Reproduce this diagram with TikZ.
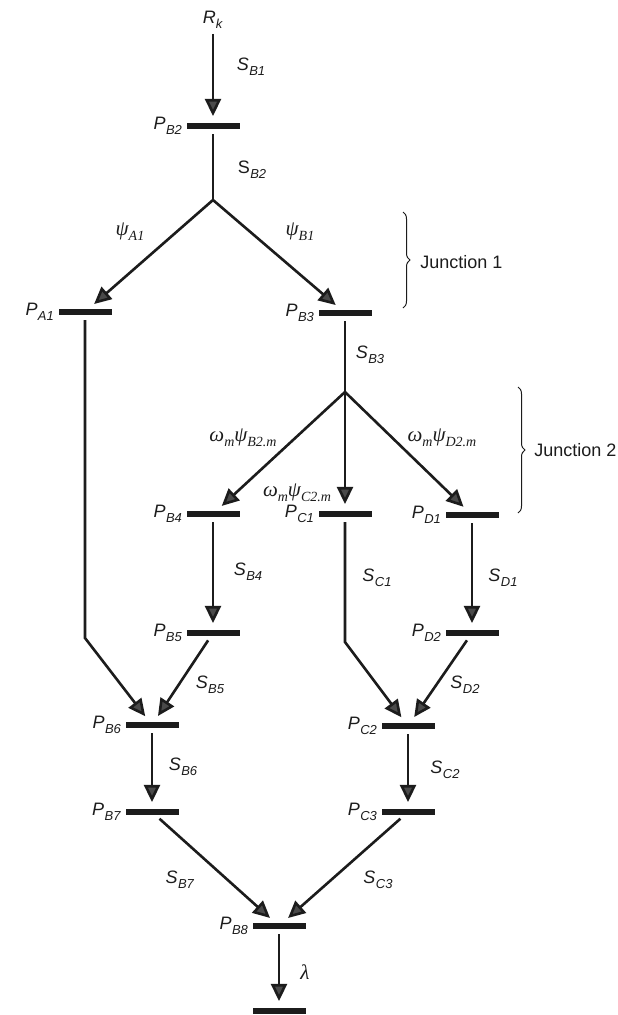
\RequirePackage{fix-cm}
\documentclass[tikz,border=0pt]{standalone}
\usepackage{fontspec}
\setmainfont{Liberation Sans}
\newfontfamily\greekfont{Liberation Serif}
\usepackage{xcolor}
\usepackage{tikz}
\usetikzlibrary{arrows.meta,decorations.pathreplacing}
\definecolor{FlowInk}{HTML}{1C1C1C}
\definecolor{FlowTip}{HTML}{4A4A4A}
\newcommand{\subtx}[1]{\raisebox{-.5ex}{\fontsize{13}{14}\selectfont\textit{#1}}}
\newcommand{\pl}[1]{\textit{P}\kern.4pt\subtx{#1}}
\newcommand{\sv}[1]{\textit{S}\kern.4pt\subtx{#1}}
\newcommand{\gsub}[1]{\raisebox{-.55ex}{\fontsize{14}{15}\selectfont\itshape #1}}
\newcommand{\gk}[1]{{\greekfont\fontsize{21}{23}\selectfont\itshape #1}}

\begin{document}
\begin{tikzpicture}[x=1pt,y=-1pt,line width=2.6pt,
  bar/.style={fill=FlowInk,minimum width=53pt,minimum height=5.5pt,inner sep=0pt},
  flow/.style={draw=FlowInk,-{Triangle[length=17pt,width=16pt,fill=FlowTip]},shorten >=6pt},
  link/.style={draw=FlowInk},
  txt/.style={font=\fontsize{18}{20}\selectfont,inner sep=1pt,text=FlowInk},
  every label/.style={txt},label distance=1pt,
  curly/.style={draw=FlowInk,line width=1pt,decorate,decoration={brace,amplitude=7pt}}]
\path[use as bounding box] (0,0) rectangle (618,1015);
\fill[white] (0,0) rectangle (618,1015);
% places (bars)
\node[txt] (rk) at (213,20) {\textit{R}\subtx{k}};
\node[bar,label=left:\pl{B2}] (pB2) at (213,126) {};
\coordinate (j1) at (213,200);
\node[bar,label=left:\pl{A1}] (pA1) at (85,312) {};
\node[bar,label=left:\pl{B3}] (pB3) at (345,313) {};
\coordinate (j2) at (345,392);
\node[bar,label=left:\pl{B4}] (pB4) at (213,514) {};
\node[bar,label=left:\pl{C1}] (pC1) at (345,514) {};
\node[bar,label=left:\pl{D1}] (pD1) at (472,515) {};
\node[bar,label=left:\pl{B5}] (pB5) at (213,633) {};
\node[bar,label=left:\pl{D2}] (pD2) at (472,633) {};
\coordinate (kA) at (85,638);
\coordinate (kC) at (345,642);
\node[bar,label=left:\pl{B6}] (pB6) at (152,725) {};
\node[bar,label=left:\pl{C2}] (pC2) at (408,726) {};
\node[bar,label=left:\pl{B7}] (pB7) at (152,812) {};
\node[bar,label=left:\pl{C3}] (pC3) at (408,812) {};
\node[bar,label=left:\pl{B8}] (pB8) at (279,926) {};
\node[bar] (pEnd) at (279,1011) {};
% connectors
\draw[flow,shorten <=3pt] (rk) -- (pB2);
\draw[link,shorten <=4pt] (pB2) -- (j1);
\draw[flow] (j1) -- (pA1);
\draw[flow] (j1) -- (pB3);
\draw[link,shorten <=4pt] (pB3) -- (j2);
\draw[flow] (j2) -- (pB4);
\draw[flow] (j2) -- (pC1);
\draw[flow] (j2) -- (pD1);
\draw[flow,shorten <=4pt] (pB4) -- (pB5);
\draw[flow,shorten <=4pt] (pD1) -- (pD2);
\draw[flow,shorten <=4pt] (pA1) -- (kA) -- (pB6);
\draw[flow,shorten <=4pt] (pC1) -- (kC) -- (pC2);
\draw[flow,shorten <=4pt] (pB5) -- (pB6);
\draw[flow,shorten <=4pt] (pD2) -- (pC2);
\draw[flow,shorten <=4pt] (pB6) -- (pB7);
\draw[flow,shorten <=4pt] (pC2) -- (pC3);
\draw[flow,shorten <=4pt] (pB7) -- (pB8);
\draw[flow,shorten <=4pt] (pC3) -- (pB8);
\draw[flow,shorten <=4pt] (pB8) -- (pEnd);
% flow labels
\node[txt] at (251,67) {\sv{B1}};
\node[txt] at (252,170) {S\kern.4pt\subtx{B2}};
\node[txt] at (130,232) {\gk{ψ\gsub{A1}}};
\node[txt] at (300,232) {\gk{ψ\gsub{B1}}};
\node[txt] at (370,355) {\sv{B3}};
\node[txt] at (243,438) {\gk{ω\gsub{m}ψ\gsub{B2.m}}};
\node[txt] at (297,493) {\gk{ω\gsub{m}ψ\gsub{C2.m}}};
\node[txt] at (442,438) {\gk{ω\gsub{m}ψ\gsub{D2.m}}};
\node[txt] at (248,572) {\sv{B4}};
\node[txt] at (377,578) {\sv{C1}};
\node[txt] at (503,578) {\sv{D1}};
\node[txt] at (210,685) {\sv{B5}};
\node[txt] at (465,685) {\sv{D2}};
\node[txt] at (183,767) {\sv{B6}};
\node[txt] at (445,770) {\sv{C2}};
\node[txt] at (180,880) {\sv{B7}};
\node[txt] at (378,880) {\sv{C3}};
\node[txt] at (305,972) {\gk{λ}};
% junctions
\draw[curly] (403,212) -- (403,308);
\node[txt,anchor=west] (jn1) at (418,262) {Junction 1};
\draw[curly] (518,387) -- (518,513);
\node[txt,anchor=west] (jn2) at (532,450) {Junction 2};
\end{tikzpicture}
\end{document}
